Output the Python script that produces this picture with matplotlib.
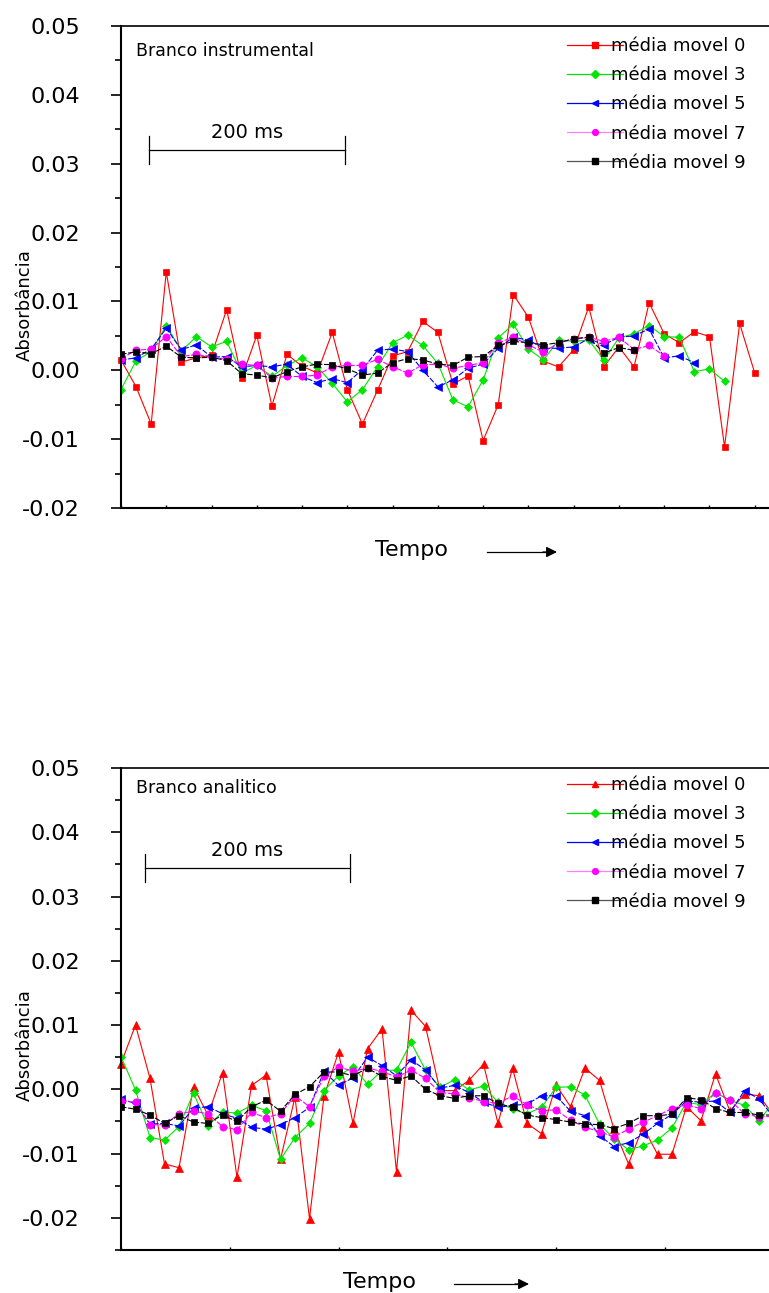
import numpy as np
import matplotlib.pyplot as plt
from matplotlib.lines import Line2D

W, H = 769, 1293

labels = ['média movel 0', 'média movel 3', 'média movel 5', 'média movel 7', 'média movel 9']
colors = ['#ff0000', '#00e600', '#0000ff', '#ff00ff', '#000000']

# Branco instrumental
inst_mm0 = [0.0015, -0.0024, -0.0078, 0.0143, 0.0012, 0.0018, 0.0022, 0.0088, -0.0011, 0.0051,
            -0.0052, 0.0023, 0.0006, -0.0004, 0.0055, -0.0028, -0.0078, -0.0029, 0.0021, 0.0027,
            0.0071, 0.0055, -0.0020, -0.0008, -0.0102, -0.0050, 0.0110, 0.0077, 0.0013, 0.0005,
            0.0030, 0.0092, 0.0005, 0.0034, 0.0005, 0.0098, 0.0053, 0.0040, 0.0056, 0.0049,
            -0.0111, 0.0068, -0.0004]
inst_mm3 = [-0.0028, 0.0014, 0.0027, 0.0065, 0.0028, 0.0049, 0.0034, 0.0042, -0.0004, 0.0007,
            -0.0009, 0.0007, 0.0018, 0.0005, -0.0019, -0.0046, -0.0028, 0.0005, 0.0040, 0.0051,
            0.0036, 0.0010, -0.0043, -0.0053, -0.0014, 0.0047, 0.0067, 0.0031, 0.0015, 0.0044,
            0.0042, 0.0044, 0.0015, 0.0047, 0.0053, 0.0065, 0.0049, 0.0048, -0.0002, 0.0002,
            -0.0016]
inst_mm5 = [0.0015, 0.0018, 0.0031, 0.0061, 0.0030, 0.0037, 0.0019, 0.0020, 0.0005, 0.0007,
            0.0005, 0.0009, -0.0009, -0.0018, -0.0012, -0.0018, 0.0001, 0.0029, 0.0031, 0.0027,
            0.0000, -0.0024, -0.0014, 0.0003, 0.0009, 0.0032, 0.0048, 0.0044, 0.0032, 0.0032,
            0.0034, 0.0046, 0.0037, 0.0048, 0.0050, 0.0060, 0.0018, 0.0021, 0.0011]
inst_mm7 = [0.0017, 0.0029, 0.0031, 0.0049, 0.0020, 0.0023, 0.0019, 0.0016, 0.0009, 0.0007,
            -0.0011, -0.0009, -0.0009, -0.0007, 0.0005, 0.0007, 0.0007, 0.0016, 0.0005, -0.0004,
            0.0008, 0.0009, 0.0003, 0.0007, 0.0011, 0.0040, 0.0048, 0.0037, 0.0026, 0.0040,
            0.0045, 0.0048, 0.0042, 0.0048, 0.0030, 0.0036, 0.0021]
inst_mm9 = [0.0023, 0.0027, 0.0024, 0.0035, 0.0019, 0.0018, 0.0019, 0.0014, -0.0005, -0.0007,
            -0.0011, -0.0002, 0.0005, 0.0009, 0.0008, 0.0002, -0.0007, -0.0004, 0.0011, 0.0017,
            0.0015, 0.0009, 0.0007, 0.0019, 0.0020, 0.0036, 0.0042, 0.0040, 0.0037, 0.0040,
            0.0046, 0.0048, 0.0025, 0.0033, 0.0029]

# Branco analitico
anal_mm0 = [0.0040, 0.0100, 0.0017, -0.0116, -0.0122, 0.0004, -0.0040, 0.0026, -0.0137, 0.0006,
            0.0022, -0.0109, -0.0012, -0.0201, -0.0011, 0.0058, -0.0053, 0.0063, 0.0094, -0.0128,
            0.0123, 0.0098, -0.0002, -0.0002, 0.0014, 0.0039, -0.0053, 0.0033, -0.0053, -0.0069,
            0.0007, -0.0027, 0.0033, 0.0014, -0.0062, -0.0116, -0.0058, -0.0101, -0.0101, -0.0027,
            -0.0049, 0.0024, -0.0034, -0.0007, -0.0010, -0.0040]
anal_mm3 = [0.0051, -0.0001, -0.0075, -0.0079, -0.0058, -0.0006, -0.0057, -0.0035, -0.0037, -0.0025,
            -0.0033, -0.0109, -0.0075, -0.0053, -0.0002, 0.0021, 0.0035, 0.0008, 0.0029, 0.0030,
            0.0073, 0.0030, 0.0003, 0.0015, -0.0001, 0.0005, -0.0020, -0.0031, -0.0038, -0.0028,
            0.0003, 0.0004, -0.0009, -0.0054, -0.0077, -0.0094, -0.0088, -0.0079, -0.0060, -0.0020,
            -0.0024, -0.0005, -0.0017, -0.0025, -0.0049, -0.0020]
anal_mm5 = [-0.0015, -0.0022, -0.0054, -0.0053, -0.0057, -0.0029, -0.0027, -0.0038, -0.0045, -0.0059,
            -0.0062, -0.0055, -0.0044, -0.0028, 0.0028, 0.0006, 0.0018, 0.0050, 0.0037, 0.0021,
            0.0046, 0.0030, 0.0002, 0.0006, -0.0005, -0.0020, -0.0028, -0.0025, -0.0023, -0.0010,
            -0.0010, -0.0034, -0.0041, -0.0072, -0.0089, -0.0083, -0.0070, -0.0053, -0.0039, -0.0018,
            -0.0020, -0.0018, -0.0036, -0.0002, -0.0015, -0.0043]
anal_mm7 = [-0.0018, -0.0020, -0.0055, -0.0055, -0.0038, -0.0034, -0.0038, -0.0058, -0.0063, -0.0036,
            -0.0044, -0.0038, -0.0010, -0.0027, 0.0020, 0.0035, 0.0028, 0.0033, 0.0028, 0.0019,
            0.0030, 0.0017, -0.0005, -0.0007, -0.0013, -0.0019, -0.0022, -0.0010, -0.0024, -0.0033,
            -0.0032, -0.0048, -0.0059, -0.0066, -0.0074, -0.0062, -0.0051, -0.0041, -0.0030, -0.0024,
            -0.0030, -0.0005, -0.0017, -0.0038, -0.0043, -0.0042]
anal_mm9 = [-0.0027, -0.0031, -0.0040, -0.0053, -0.0041, -0.0051, -0.0053, -0.0040, -0.0050, -0.0027,
            -0.0017, -0.0034, -0.0008, 0.0004, 0.0027, 0.0027, 0.0021, 0.0033, 0.0020, 0.0014,
            0.0021, 0.0000, -0.0010, -0.0014, -0.0010, -0.0010, -0.0022, -0.0028, -0.0040, -0.0044,
            -0.0047, -0.0051, -0.0054, -0.0055, -0.0061, -0.0053, -0.0041, -0.0041, -0.0039, -0.0013,
            -0.0016, -0.0030, -0.0036, -0.0036, -0.0040, -0.0040]

y_ticks = [-0.02, -0.01, 0.00, 0.01, 0.02, 0.03, 0.04, 0.05]
y_minor = [-0.025, -0.015, -0.005, 0.005, 0.015, 0.025, 0.035, 0.045]


def fx(x):
    return x / W


def fy(y):
    return 1 - y / H


fig = plt.figure(figsize=(W / 100, H / 100), dpi=100)


def make_panel(top_px, ymin, series, markers, msizes, step_px, tick_step, title, bar, tempo_y, tempo_x, arrow_x, leg_top, ylab_y):
    ax = fig.add_axes([fx(121), fy(top_px + 482), fx(800 - 121), 482 / H])
    handles = []
    for vals, lab, c, m, ms, i in zip(series, labels, colors, markers, msizes, range(5)):
        x = np.arange(len(vals))
        ls = '-' if i < 2 else (0, (5, 1.5))
        ax.plot(x, vals, color=c, lw=0.8, ls=ls, marker=m, ms=ms, mfc=c, mec=c, mew=0.5,
                clip_on=False if i == 0 else True)
        # legend keys are drawn solid, as in the original
        lc = '#ff80ff' if i == 3 else ('#555555' if i == 4 else c)
        handles.append(Line2D([], [], color=lc, lw=0.9, marker=m, ms=ms * 0.8, mfc=c, mec=c))
    ax.set_xlim(0, (800 - 121) / step_px)
    ax.set_ylim(ymin, 0.05)
    ax.set_yticks(y_ticks)
    ax.set_yticklabels(['%.2f' % v for v in y_ticks])
    ax.set_yticks([v for v in y_minor if v >= ymin], minor=True)
    ax.set_xticks(np.arange(0, 48, tick_step))
    ax.set_xticklabels([])
    ax.tick_params(axis='y', which='major', length=7.5, width=1.2, pad=22, labelsize=16)
    ax.tick_params(axis='y', which='minor', length=4, width=1.2)
    ax.tick_params(axis='x', length=2, width=1, direction='in')
    for s in ['left', 'bottom']:
        ax.spines[s].set_linewidth(1.5)
    ax.spines['top'].set_linewidth(1.2)
    ax.spines['right'].set_visible(False)

    leg = ax.legend(handles, labels, loc='upper left', bbox_to_anchor=(fx(567), fy(leg_top)),
                    bbox_transform=fig.transFigure, frameon=False, fontsize=13, handlelength=3.1,
                    handletextpad=-0.65, labelspacing=0.62, borderpad=0, borderaxespad=0)
    for t in leg.get_texts():
        t.set_zorder(5)

    fig.text(fx(136), fy(title[1]), title[0], fontsize=12.5, ha='left', va='center')
    # 200 ms scale bar
    x0, x1, yb = bar
    fig.add_artist(Line2D([fx(x0), fx(x1)], [fy(yb), fy(yb)], color='black', lw=0.9))
    for xe in (x0, x1):
        fig.add_artist(Line2D([fx(xe), fx(xe)], [fy(yb - 14), fy(yb + 14)], color='black', lw=0.9))
    fig.text(fx((x0 + x1) / 2), fy(yb - 17), '200 ms', fontsize=14, ha='center', va='center')

    fig.text(fx(tempo_x), fy(tempo_y), 'Tempo', fontsize=16, ha='left', va='center')
    fig.add_artist(Line2D([fx(arrow_x[0]), fx(arrow_x[1] - 12)], [fy(tempo_y + 2), fy(tempo_y + 2)], color='black', lw=0.9))
    ax.annotate('', xy=(fx(arrow_x[1]), fy(tempo_y + 2)), xytext=(fx(arrow_x[1] - 14), fy(tempo_y + 2)),
                xycoords='figure fraction', textcoords='figure fraction',
                arrowprops=dict(arrowstyle='-|>', color='black', lw=0.9, mutation_scale=16, shrinkA=0, shrinkB=0))
    fig.text(fx(25), fy(ylab_y), 'Absorbância', fontsize=13, rotation=90, ha='center', va='center')
    return ax


make_panel(26, -0.02, [inst_mm0, inst_mm3, inst_mm5, inst_mm7, inst_mm9],
           ['s', 'D', '<', 'o', 's'], [4.8, 4.5, 6.0, 5.2, 4.8], 15.5, 3,
           ('Branco instrumental', 51), (149, 345, 150), 550, 375, (487, 557), 37, 305)

make_panel(768, -0.025, [anal_mm0, anal_mm3, anal_mm5, anal_mm7, anal_mm9],
           ['^', 'D', '<', 'o', 's'], [6.0, 4.5, 6.0, 5.2, 4.8], 14.5, 7.5,
           ('Branco analitico', 788), (145, 350, 868), 1282, 343, (454, 529), 776, 1045)

fig.savefig('out.png', dpi=100)
